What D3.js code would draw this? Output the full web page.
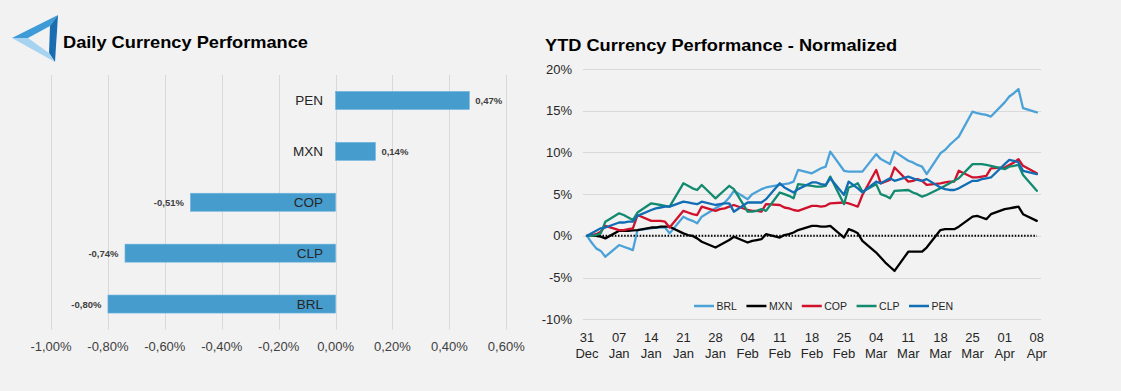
<!DOCTYPE html>
<html><head><meta charset="utf-8">
<script src="https://cdn.jsdelivr.net/npm/d3@7"></script>
<style>
html,body{margin:0;padding:0;background:#f2f2f2;}
svg{display:block;font-family:"Liberation Sans",Arial,sans-serif;}
</style>
</head><body>
<svg id="c" width="1121" height="391"></svg>
<script>
// ---------- Daily performance (left) ----------
const categories = ["PEN", "MXN", "COP", "CLP", "BRL"];
const dailyValues = [0.47, 0.14, -0.51, -0.74, -0.80];
const dailyTicks = [-1.0, -0.8, -0.6, -0.4, -0.2, 0.0, 0.2, 0.4, 0.6];

// ---------- YTD normalized (right) ----------
const dates = [
 "2018-12-31","2019-01-01","2019-01-02","2019-01-03","2019-01-04",
 "2019-01-07","2019-01-08","2019-01-09","2019-01-10","2019-01-11",
 "2019-01-14","2019-01-15","2019-01-16","2019-01-17","2019-01-18",
 "2019-01-21","2019-01-22","2019-01-23","2019-01-24","2019-01-25",
 "2019-01-28","2019-01-29","2019-01-30","2019-01-31","2019-02-01",
 "2019-02-04","2019-02-05","2019-02-06","2019-02-07","2019-02-08",
 "2019-02-11","2019-02-12","2019-02-13","2019-02-14","2019-02-15",
 "2019-02-18","2019-02-19","2019-02-20","2019-02-21","2019-02-22",
 "2019-02-25","2019-02-26","2019-02-27","2019-02-28","2019-03-01",
 "2019-03-04","2019-03-05","2019-03-06","2019-03-07","2019-03-08",
 "2019-03-11","2019-03-12","2019-03-13","2019-03-14","2019-03-15",
 "2019-03-18","2019-03-19","2019-03-20","2019-03-21","2019-03-22",
 "2019-03-25","2019-03-26","2019-03-27","2019-03-28","2019-03-29",
 "2019-04-01","2019-04-02","2019-04-03","2019-04-04","2019-04-05",
 "2019-04-08"
];
const BRL = [0,-0.8,-1.5,-1.8,-2.5, -1.1,-1.3,-1.5,-1.7,0.7, 0.9,1.0,1.0,1.0,0.3, 2.3,2.0,1.8,1.5,2.3,
 3.3,3.6,4.0,4.6,5.4, 4.4,5.0,5.3,5.6,5.8, 6.1,6.2,6.3,6.5,7.9, 7.5,7.8,8.1,8.3,10.1,
 7.8,7.7,7.7,7.7,7.7, 9.8,9.2,8.9,8.6,10.1, 9.0,8.8,8.5,8.3,7.4, 9.9,10.3,10.9,11.4,11.9,
 14.9,14.7,14.6,14.5,14.3, 16.0,16.7,17.1,17.6,15.3, 14.8];
const MXN = [0,0,0,-0.1,-0.3, 0.6,0.6,0.6,0.65,0.7, 1.0,1.0,1.1,1.1,1.1, 0.3,0.1,0.0,-0.3,-0.7,
 -1.4,-1.1,-0.8,-0.5,-0.1, -0.8,-0.6,-0.5,-0.4,0.2, -0.2,0.1,0.2,0.4,0.7, 1.2,1.2,1.1,1.1,1.2,
 -0.2,0.8,0.6,0.3,-0.6, -2.0,-2.6,-3.2,-3.7,-4.2, -1.9,-1.9,-1.9,-1.9,-1.4, 0.7,0.8,0.8,0.8,1.1,
 2.3,2.4,2.2,2.0,2.6, 3.2,3.3,3.4,3.5,2.6, 1.8];
const COP = [0,0.1,0.2,0.5,1.2, 0.7,0.7,0.8,0.9,2.5, 1.8,1.8,1.8,1.7,1.0, 3.0,2.8,2.6,2.5,3.5,
 3.0,3.2,3.3,3.5,3.7, 3.1,3.0,3.0,2.9,3.8, 3.7,3.4,3.3,3.1,3.0, 3.6,3.6,3.5,3.6,3.9,
 4.0,3.9,3.7,3.5,4.9, 7.9,6.3,6.5,6.7,8.2, 6.5,6.6,6.8,6.6,6.1, 6.3,6.4,6.5,6.5,7.8,
 7.0,7.0,7.1,7.2,8.1, 8.2,8.5,8.8,9.2,8.4, 7.5];
const CLP = [0,0,0.1,0.3,1.7, 2.7,2.5,2.2,1.9,2.8, 3.9,3.8,3.7,3.6,3.5, 6.3,6.0,5.7,5.5,6.1,
 4.5,5.0,5.5,6.0,5.6, 2.9,2.9,3.0,3.2,3.0, 5.2,5.0,4.8,4.5,6.2, 6.0,5.9,5.9,6.0,7.1,
 3.8,5.8,6.0,6.3,5.3, 6.2,5.0,4.8,4.5,5.4, 5.5,5.2,5.0,4.7,4.9, 5.7,6.0,6.3,6.6,6.9,
 8.6,8.6,8.6,8.5,8.4, 8.0,8.3,8.4,8.5,7.3, 5.4];
const PEN = [0,0.3,0.6,0.9,1.0, 1.6,1.6,1.7,1.7,2.4, 3.1,3.3,3.4,3.5,3.5, 4.1,4.0,3.9,3.8,4.1,
 3.7,3.8,3.9,3.9,2.9, 4.0,4.0,4.0,4.0,4.4, 6.3,5.8,5.5,5.2,5.6, 6.4,6.4,6.2,6.1,6.9,
 4.9,6.5,6.1,5.7,5.2, 6.5,6.3,6.6,6.9,6.6, 7.1,6.9,6.7,6.6,6.8, 5.8,5.6,5.5,5.5,5.7,
 6.6,6.6,6.8,6.9,7.0, 8.6,9.1,9.0,8.8,7.8, 7.4];
const seriesNames = ["BRL", "MXN", "COP", "CLP", "PEN"];
const seriesColors = ["#4ba2d8", "#000000", "#d0112b", "#128a6f", "#116db4"];
const ytdTicks = [-10, -5, 0, 5, 10, 15, 20];
const weekTicks = ["2018-12-31","2019-01-07","2019-01-14","2019-01-21","2019-01-28","2019-02-04",
 "2019-02-11","2019-02-18","2019-02-25","2019-03-04","2019-03-11","2019-03-18","2019-03-25",
 "2019-04-01","2019-04-08"];

const svg = d3.select("#c");
const textCol = "#262626";
const gridCol = "#d9d9d9";

// ---------- Logo ----------
const logo = svg.append("g");
const A=[12,38],B=[58,15],C=[55,62],a=[28,38],b=[50,26],c=[49,53];
const poly = pts => "M" + pts.map(p => p.join(",")).join("L") + "Z";
logo.append("path").attr("d", poly([A,B,b,a])).attr("fill", "#3f9bd7");
logo.append("path").attr("d", poly([B,C,c,b])).attr("fill", "#1a6db1");
logo.append("path").attr("d", poly([C,A,a,c])).attr("fill", "#a6d3ef");

// ---------- Titles ----------
svg.append("text").attr("x", 63).attr("y", 47.5).attr("font-size", 17).attr("font-weight", "bold")
  .attr("fill", "#000").attr("textLength", 245).attr("lengthAdjust", "spacingAndGlyphs")
  .text("Daily Currency Performance");
svg.append("text").attr("x", 545).attr("y", 51.3).attr("font-size", 16).attr("font-weight", "bold")
  .attr("fill", "#000").attr("textLength", 352).attr("lengthAdjust", "spacingAndGlyphs")
  .text("YTD Currency Performance - Normalized");

// ---------- Left bar chart ----------
const xL = d3.scaleLinear().domain([-1.0, 0.6]).range([51, 506.3]);
const yL = d3.scaleBand().domain(categories).range([75, 329.5]).paddingInner(0.646).paddingOuter(0.323);
const fmtPct = v => d3.format(".2f")(v).replace(".", ",").replace("−", "-") + "%";

const gL = svg.append("g");
gL.selectAll("line.grid").data(dailyTicks).join("line")
  .attr("x1", d => Math.round(xL(d)) + 0.5).attr("x2", d => Math.round(xL(d)) + 0.5)
  .attr("y1", 75).attr("y2", 329.5).attr("stroke", gridCol).attr("stroke-width", 1);
gL.selectAll("text.tick").data(dailyTicks).join("text")
  .attr("x", d => xL(d)).attr("y", 351).attr("text-anchor", "middle")
  .attr("font-size", 13).attr("fill", "#404040").text(d => fmtPct(d));

const vals = categories.map((k, i) => ({k, v: dailyValues[i]}));
gL.selectAll("rect.bar").data(vals).join("rect")
  .attr("x", d => xL(Math.min(0, d.v))).attr("width", d => Math.abs(xL(d.v) - xL(0)))
  .attr("y", d => yL(d.k)).attr("height", yL.bandwidth())
  .attr("fill", "#469dcd").attr("stroke", "#6cb3dd").attr("stroke-width", 0.6);
gL.selectAll("text.cat").data(vals).join("text")
  .attr("x", xL(0) - 12.5).attr("y", d => yL(d.k) + yL.bandwidth() / 2 + 4.7)
  .attr("text-anchor", "end").attr("font-size", 13.5).attr("fill", textCol).text(d => d.k);
gL.selectAll("text.val").data(vals).join("text")
  .attr("x", d => d.v >= 0 ? xL(d.v) + 6 : xL(d.v) - 6.5)
  .attr("y", d => yL(d.k) + yL.bandwidth() / 2 + 3.5)
  .attr("text-anchor", d => d.v >= 0 ? "start" : "end")
  .attr("font-size", 9.5).attr("font-weight", "bold").attr("fill", "#404040")
  .text(d => fmtPct(d.v));

// ---------- Right line chart ----------
const parse = d3.timeParse("%Y-%m-%d");
const day = 864e5;
const d0 = parse(dates[0]), d1 = parse(dates[dates.length - 1]);
const xR = d3.scaleTime().domain([new Date(+d0 - 0.87 * day), new Date(+d1 + 0.91 * day)]).range([583, 1041]);
const yR = d3.scaleLinear().domain([-10, 20]).range([319.3, 69]);

const gR = svg.append("g");
gR.selectAll("line.grid").data(ytdTicks).join("line")
  .attr("x1", 583).attr("x2", 1041)
  .attr("y1", d => Math.round(yR(d)) + 0.5).attr("y2", d => Math.round(yR(d)) + 0.5)
  .attr("stroke", gridCol).attr("stroke-width", 1.2);
gR.selectAll("text.ytick").data(ytdTicks).join("text")
  .attr("x", 572).attr("y", d => yR(d) + 4.6).attr("text-anchor", "end")
  .attr("font-size", 13).attr("fill", textCol).text(d => d + "%");

const xt = gR.selectAll("g.xtick").data(weekTicks.map(parse)).join("g")
  .attr("transform", d => `translate(${xR(d)},0)`);
xt.append("text").attr("y", 341.5).attr("text-anchor", "middle").attr("font-size", 13)
  .attr("fill", textCol).text(d => d3.timeFormat("%d")(d));
xt.append("text").attr("y", 357.5).attr("text-anchor", "middle").attr("font-size", 13)
  .attr("fill", textCol).text(d => d3.timeFormat("%b")(d));

// zero reference dotted line
gR.append("line").attr("x1", xR(d0)).attr("x2", xR(d1))
  .attr("y1", yR(0)).attr("y2", yR(0))
  .attr("stroke", "#000").attr("stroke-width", 2).attr("stroke-dasharray", "1.5,1.6");

const seriesData = [BRL, MXN, COP, CLP, PEN];
const line = d3.line().x(d => xR(d.date)).y(d => yR(d.v)).curve(d3.curveLinear);
seriesNames.forEach((name, i) => {
  const pts = dates.map((s, j) => ({date: parse(s), v: seriesData[i][j]}));
  gR.append("path").datum(pts).attr("d", line).attr("fill", "none")
    .attr("stroke", seriesColors[i]).attr("stroke-width", 2.3)
    .attr("stroke-linejoin", "round").attr("stroke-linecap", "round");
});

// legend
const lg = svg.append("g");
let lx = 694;
const ly = 306;
seriesNames.forEach((name, i) => {
  lg.append("line").attr("x1", lx).attr("x2", lx + 20).attr("y1", ly).attr("y2", ly)
    .attr("stroke", seriesColors[i]).attr("stroke-width", 2.5);
  const t = lg.append("text").attr("x", lx + 22.5).attr("y", ly + 3.7)
    .attr("font-size", 10.5).attr("fill", textCol).text(name);
  lx += 22.5 + t.node().getComputedTextLength() + 9.5;
});
</script>
</body></html>
